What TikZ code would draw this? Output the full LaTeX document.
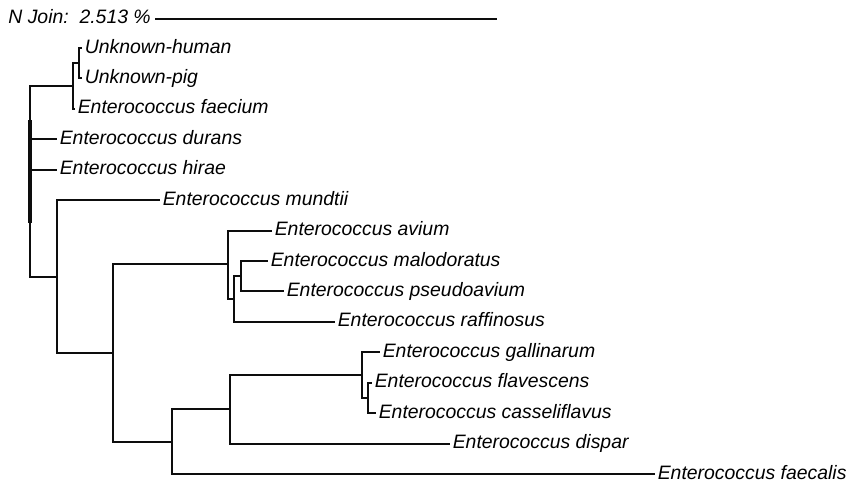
\documentclass[tikz,border=0pt]{standalone}
\usepackage{fontspec}
\setmainfont{Liberation Sans}
\usetikzlibrary{calc}
\definecolor{TreeClr}{rgb}{0.05,0.05,0.05}

\begin{document}
\begin{tikzpicture}[x=0.5pt,y=-0.5pt,
  branch/.style={line width=1pt,color=TreeClr},
  leaf/.style={anchor=west,inner sep=1.2pt,text height=7pt,text depth=2pt,
    font=\fontsize{9.7}{11}\selectfont\itshape}]
\useasboundingbox (0,0) rectangle (851,482);

% scale bar
\node[leaf,inner sep=0pt] (bar) at (8,19) {N Join:\ \ 2.513 \%};
\coordinate (barEnd) at (497,19);
\draw[branch] ($(bar.east)+(4,0)$) -- (barEnd);

% leaves (end of branch x / y)
\foreach \nm/\x/\y/\txt in {human/82/48/Unknown-human, pig/82/78.4/Unknown-pig,
    faecium/75/108.9/Enterococcus faecium, durans/57/139.3/Enterococcus durans,
    hirae/57/169.7/Enterococcus hirae, mundtii/160/200.2/Enterococcus mundtii,
    avium/272/230.6/Enterococcus avium, malo/268/261/Enterococcus malodoratus,
    pseudo/284/291.4/Enterococcus pseudoavium, raff/335/321.9/Enterococcus raffinosus,
    gall/380/352.3/Enterococcus gallinarum, flav/372/382.7/Enterococcus flavescens,
    cass/376/413.2/Enterococcus casseliflavus, dispar/450/443.6/Enterococcus dispar,
    faecalis/655/474/Enterococcus faecalis}
  \node[leaf] (\nm) at (\x,\y) {\txt};

% inner nodes
\coordinate (hp) at (79,63.2);
\coordinate (hpf) at (73,86);
\coordinate (root) at (30,181);
\coordinate (ml) at (57,276.6);
\coordinate (rest) at (113,353);
\coordinate (av) at (228,264.3);
\coordinate (sub) at (234,299);
\coordinate (mp) at (241,276.2);
\coordinate (gdf) at (172,441.7);
\coordinate (gd) at (230,409.3);
\coordinate (gfc) at (362,375);
\coordinate (fc) at (368,398);

\foreach \a/\b in {hp/human,hp/pig,hpf/faecium,root/durans,root/hirae,ml/mundtii,
    av/avium,mp/malo,mp/pseudo,sub/raff,gfc/gall,fc/flav,fc/cass,gd/dispar,gdf/faecalis}
  \draw[branch] (\a) |- (\b.west);
\foreach \a/\b in {hpf/hp,root/hpf,root/ml,ml/rest,rest/av,av/sub,sub/mp,
    rest/gdf,gdf/gd,gd/gfc,gfc/fc}
  \draw[branch] (\a) |- (\b);

% thick part of the root
\draw[branch,line width=2pt] (30,120) -- (30,223);
\end{tikzpicture}
\end{document}
